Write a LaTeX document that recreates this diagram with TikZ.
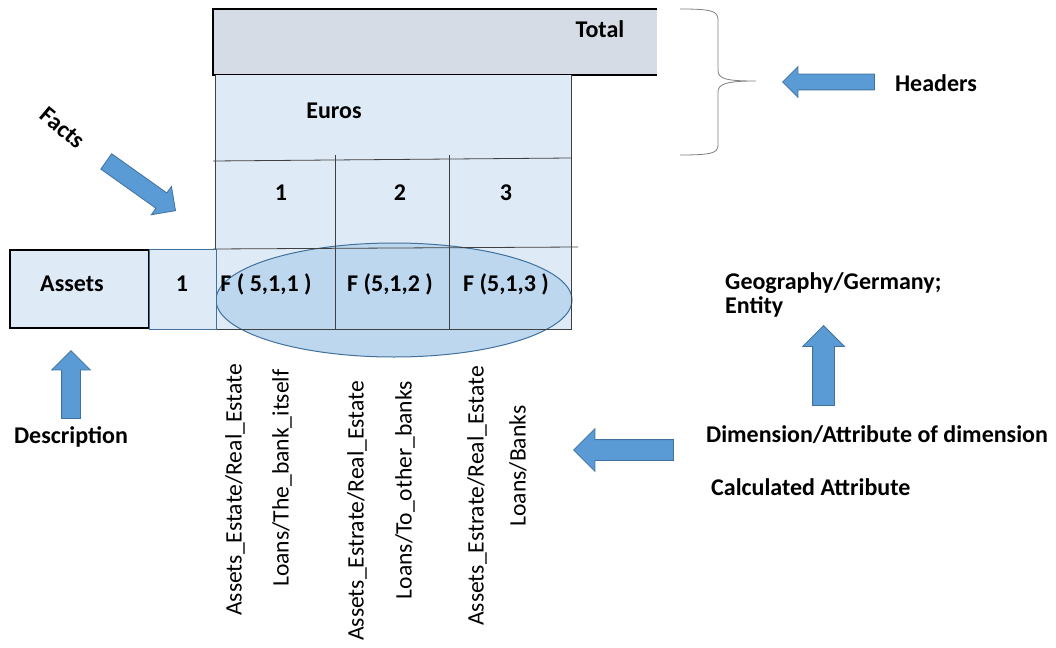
\documentclass[tikz,border=0pt]{standalone}
\usepackage{fontspec}
\setmainfont{Carlito}
\usepackage{tikz}
\usetikzlibrary{shapes.arrows}
\definecolor{cellblue}{HTML}{DEEBF7}
\definecolor{totalgray}{HTML}{D6DCE5}
\definecolor{factblue}{HTML}{BDD7EE}
\definecolor{factedge}{HTML}{41719C}
\definecolor{arrowblue}{HTML}{5B9BD5}

\begin{document}
\begin{tikzpicture}[x=1pt, y=-1pt,
        lbl/.style={font=\fontsize{24}{24}\selectfont\bfseries, inner sep=0pt},
        dimlbl/.style={font=\fontsize{23.6}{24}\selectfont, rotate=90, inner sep=0pt},
        fatarrow/.style={single arrow, draw=factedge, fill=arrowblue, line width=0.8pt,
            anchor=tip, inner xsep=0pt, single arrow tip angle=90},
        gridline/.style={draw=black!75, line width=0.8pt}]
        \useasboundingbox (0,0) rectangle (1056,647);
        % header blocks
        \fill[totalgray] (213,9) rectangle (657,75);
        \draw[line width=1.5pt] (657,9) -- (213,9) -- (213,75) -- (657,75);
        \fill[cellblue] (215,75) rectangle (571,329);
        \draw[factedge, fill=factblue, line width=1pt] (394,300) ellipse [x radius=178, y radius=57];
        \draw[gridline] (215,75) -- (215,330);
        \draw[gridline] (571,75) -- (571,330);
        \draw[gridline] (213,161) -- (571,158);
        \draw[gridline] (335,155) -- (335,330);
        \draw[gridline] (449,155) -- (449,330);
        \draw[gridline] (213,249) -- (578,247);
        \draw[gridline] (215,329) -- (571,329);
        % row header
        \draw[fill=cellblue, line width=1.5pt] (10,250) rectangle (149,328);
        \draw[fill=cellblue, draw=factedge, line width=1pt] (149,249) rectangle (216,329);

        \node[lbl] (total) at (600,29) {Total};
        \node[lbl] (euros) at (334,111) {Euros};
        \node[lbl] (col1) at (281,193) {1};
        \node[lbl] (col2) at (400,193) {2};
        \node[lbl] (col3) at (506,193) {3};
        \node[lbl] (assets) at (72,284) {Assets};
        \node[lbl] (row1) at (182,284) {1};
        \node[lbl] (f1) at (266,284) {F ( 5,1,1 )};
        \node[lbl] (f2) at (390,284) {F (5,1,2 )};
        \node[lbl] (f3) at (506,284) {F (5,1,3 )};

        \node[dimlbl] (d1) at (235,490) {Assets\_Estate/Real\_Estate};
        \node[dimlbl] (d2) at (282,478) {Loans/The\_bank\_itself};
        \node[dimlbl] (d3) at (357,511) {Assets\_Estrate/Real\_Estate};
        \node[dimlbl] (d4) at (405,490) {Loans/To\_other\_banks};
        \node[dimlbl] (d5) at (477,496) {Assets\_Estrate/Real\_Estate};
        \node[dimlbl] (d6) at (518,466) {Loans/Banks};

        % callouts
        \node[lbl, rotate=-40] (facts) at (63,128) {Facts};
        \node[fatarrow, rotate=-35.4, minimum height=85pt, inner ysep=9pt, single arrow head extend=8pt] (factsarr) at (176,211) {};
        \node[lbl] (desc) at (71,437) {Description};
        \node[fatarrow, rotate=90, minimum height=68pt, inner ysep=9pt, single arrow head extend=10pt] (descarr) at (71,350) {};
        \draw[gray, line width=0.8pt] (680,9) .. controls (712,9) and (718,11) .. (718,20) -- (718,70)
            .. controls (718,79) and (726,81) .. (756,81) .. controls (726,81) and (718,84) .. (718,92)
            -- (718,145) .. controls (718,153) and (712,155) .. (680,155);
        \node[fatarrow, rotate=180, minimum height=92pt, inner ysep=7.5pt, single arrow head extend=7.5pt] (hdarr) at (782,82) {};
        \node[lbl] (headers) at (936,83) {Headers};
        \node[lbl, anchor=west, align=left] (geo) at (725,295) {Geography/Germany;\\Entity};
        \node[fatarrow, rotate=90, minimum height=80pt, inner ysep=10.5pt, single arrow head extend=10pt] (geoarr) at (823.5,325) {};
        \node[lbl, anchor=west] (dim) at (706,435) {Dimension/Attribute of dimension};
        \node[lbl, anchor=west] (calc) at (711,487) {Calculated Attribute};
        \node[fatarrow, rotate=180, minimum height=100pt, inner ysep=10pt, single arrow head extend=11pt] (dimarr) at (573,450) {};
    \end{tikzpicture}
\end{document}
